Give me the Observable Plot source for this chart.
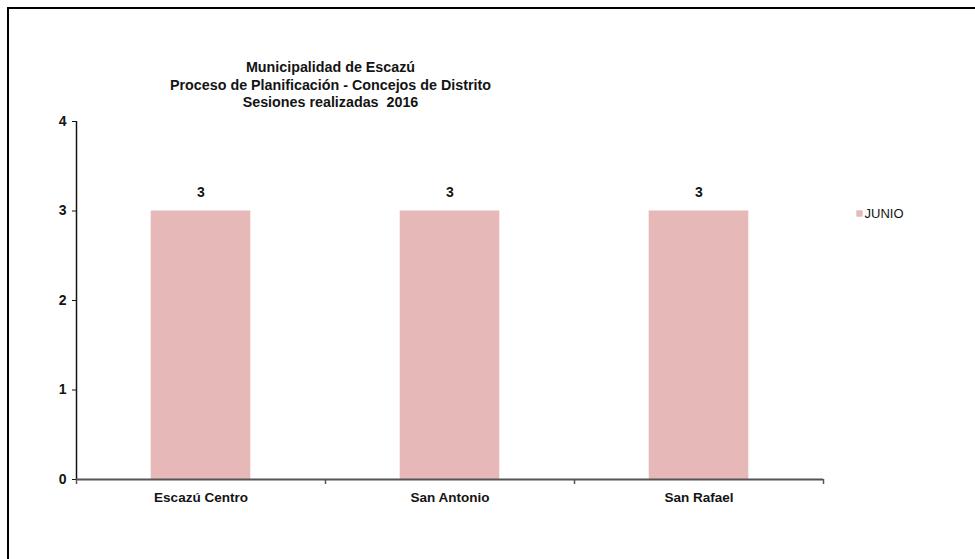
<!DOCTYPE html>
<html>
<head>
<meta charset="utf-8">
<script src="https://cdn.jsdelivr.net/npm/d3@7"></script>
<script src="https://cdn.jsdelivr.net/npm/@observablehq/plot@0.6"></script>
<style>
  html, body { margin: 0; padding: 0; background: #fff; }
  #wrap { position: relative; width: 975px; height: 559px; overflow: hidden; }
  #frame { position: absolute; left: 7px; top: 7px; width: 2000px; height: 2000px;
           border-top: 2px solid #000; border-left: 2px solid #000; pointer-events: none; }
</style>
</head>
<body>
<div id="wrap"><div id="frame"></div></div>
<script>
const categories = ["Escazú Centro", "San Antonio", "San Rafael"];
const values = [3, 3, 3];
const seriesName = "JUNIO";
const yTicks = [0, 1, 2, 3, 4];
const titleLines = ["Municipalidad de Escazú", "Proceso de Planificación - Concejos de Distrito", "Sesiones realizadas  2016"];

const data = categories.map((c, i) => ({category: c, i, value: values[i]}));
const font = "'Liberation Sans', Arial, sans-serif";
const ink = "#141414";

const chart = Plot.plot({
  width: 975,
  height: 559,
  marginLeft: 76,
  marginRight: 152,
  marginTop: 121,
  marginBottom: 80,
  style: {background: "transparent", fontFamily: font, color: ink},
  x: {domain: [0, categories.length], axis: null},
  y: {domain: [0, 4], axis: null},
  marks: [
    Plot.rectY(data, {x1: d => d.i + 0.3, x2: d => d.i + 0.7, y: "value", fill: "#E6B8B7"}),
    Plot.axisY({ticks: yTicks, tickFormat: d => String(d), label: null, tickSize: 4, tickPadding: 6, fontSize: 14, fontWeight: "bold", stroke: ink, fill: ink}),
    Plot.ruleX([0], {stroke: ink, strokeWidth: 1.5}),
    Plot.axisX({ticks: d3.range(categories.length + 1), label: null, tickSize: 5, tickFormat: () => "", stroke: "#555", strokeWidth: 1.5}),
    Plot.ruleY([0], {stroke: "#555", strokeWidth: 2}),
    Plot.text(data, {x: d => d.i + 0.5, y: 0, dy: 18, text: "category", fontSize: 13.5, fontWeight: "bold", fill: ink, letterSpacing: -0.4}),
    Plot.text(data, {x: d => d.i + 0.5, y: "value", dy: -18, text: d => String(d.value), fontSize: 14, fontWeight: "bold", fill: ink}),
    Plot.text([titleLines.join("\n")], {frameAnchor: "top-left", dx: 254, dy: -37.5, text: d => d, textAnchor: "middle", lineAnchor: "middle", lineHeight: 1.22, fontSize: 14.3, fontWeight: "bold", fill: ink, letterSpacing: -0.45}),
    Plot.dot([seriesName], {frameAnchor: "top-right", dx: 36, dy: 92, symbol: "square", r: 3.6, fill: "#E6B8B7", stroke: null}),
    Plot.text([seriesName], {frameAnchor: "top-right", dx: 41, dy: 92, text: d => d, textAnchor: "start", lineAnchor: "middle", fontSize: 13, fill: ink, letterSpacing: -0.3})
  ]
});
document.getElementById("wrap").insertBefore(chart, document.getElementById("frame"));
</script>
</body>
</html>
